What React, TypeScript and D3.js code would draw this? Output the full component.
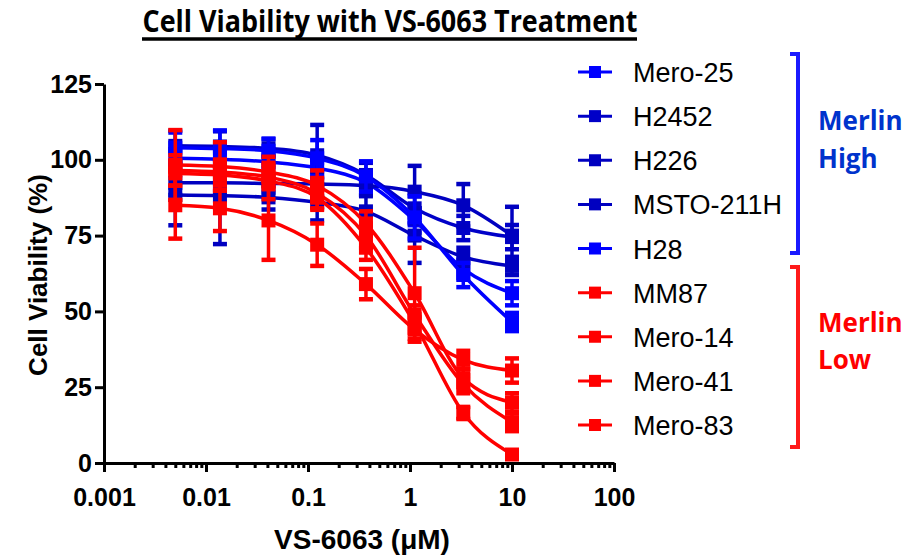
import React, { useEffect, useRef } from 'react';
import * as d3 from 'd3';

const WIDTH = 909;
const HEIGHT = 557;

// doses (uM), 3-fold dilutions
const concentrations = [0.005, 0.0137, 0.041, 0.123, 0.37, 1.11, 3.33, 10];

const xTickValues = [0.001, 0.01, 0.1, 1, 10, 100];
const xTickLabels = ['0.001', '0.01', '0.1', '1', '10', '100'];
const yTickValues = [0, 25, 50, 75, 100, 125];

// cell viability (%) mean and SD
const mero25 = [100.5, 100.2, 99.3, 97.3, 92.5, 80, 64, 56];
const mero25Sd = [3, 3, 2, 3, 4, 4, 3, 4];
const h2452 = [104.6, 104.4, 103.8, 101.5, 95, 84, 77.5, 74.5];
const h2452Sd = [5, 5, 3, 10, 4, 5, 4, 4];
const h226 = [88.4, 88.2, 87.6, 86, 83, 75, 68, 65];
const h226Sd = [10, 16, 4, 6, 5, 9, 3, 3];
const msto211h = [92.4, 92.4, 92.2, 92, 91.5, 89.5, 85, 75];
const msto211hSd = [4, 3, 3, 4, 3, 8.5, 7, 9.5];
const h28 = [104, 103.7, 103, 100.5, 94.5, 81, 62, 46.5];
const h28Sd = [5, 6, 4, 6, 5, 7, 4, 3];
const mm87 = [85, 84, 80, 72, 59, 44, 34, 30.5];
const mm87Sd = [11, 7.5, 13, 7, 5, 4, 3, 4];
const mero14 = [98.3, 97.8, 96, 91.5, 79, 56, 28, 20];
const mero14Sd = [11.5, 8, 5, 5, 4, 15, 3, 3];
const mero41 = [96.5, 96, 94.3, 89, 75, 49, 26, 13.5];
const mero41Sd = [5, 4, 4, 5, 4, 3, 3, 3];
const mero83 = [95.5, 95, 93, 87.5, 71, 46, 16.5, 2.8];
const mero83Sd = [4, 5, 6, 4, 4, 3, 2, 1];

const cellLines = ['Mero-25', 'H2452', 'H226', 'MSTO-211H', 'H28', 'MM87', 'Mero-14', 'Mero-41', 'Mero-83'];
const lineColors = ['#0000ff', '#0000c8', '#0000c0', '#0000c0', '#0000ff', '#ff0000', '#ff0000', '#ff0000', '#ff0000'];
const means = [mero25, h2452, h226, msto211h, h28, mm87, mero14, mero41, mero83];
const errors = [mero25Sd, h2452Sd, h226Sd, msto211hSd, h28Sd, mm87Sd, mero14Sd, mero41Sd, mero83Sd];

const groupNames = [['Merlin', 'High'], ['Merlin', 'Low']];
const groupColors = ['#0033cc', '#ff0000'];
const bracketColors = ['#1a1aff', '#ff1a1a'];

const App = () => {
  const svgRef = useRef<SVGSVGElement>(null);

  useEffect(() => {
    const svg = d3.select(svgRef.current);
    svg.selectAll('*').remove();

    const font = '"Liberation Sans", Arial, sans-serif';
    const x = d3.scaleLog().domain([0.001, 100]).range([104, 614]);
    const y = d3.scaleLinear().domain([0, 125]).range([463, 84]);

    // title
    svg
      .append('text')
      .attr('x', 390)
      .attr('y', 32)
      .attr('text-anchor', 'middle')
      .attr('font-family', '"Open Sans", sans-serif')
      .attr('font-weight', 700)
      .attr('font-size', 30)
      .attr('textLength', 495)
      .attr('lengthAdjust', 'spacingAndGlyphs')
      .text('Cell Viability with VS-6063 Treatment');
    svg.append('line').attr('x1', 142).attr('x2', 637).attr('y1', 39).attr('y2', 39)
      .attr('stroke', '#000').attr('stroke-width', 3.5);

    // curves, error bars, markers
    const line = d3
      .line<number>()
      .x((d, i) => x(concentrations[i]))
      .y(d => y(d))
      .curve(d3.curveMonotoneX);

    means.forEach((vals, si) => {
      const color = lineColors[si];
      const g = svg.append('g');
      g.append('path')
        .attr('d', line(vals))
        .attr('fill', 'none')
        .attr('stroke', color)
        .attr('stroke-width', 3.5);
      vals.forEach((v, i) => {
        const cx = x(concentrations[i]);
        const sd = errors[si][i];
        g.append('line').attr('x1', cx).attr('x2', cx)
          .attr('y1', y(v - sd)).attr('y2', y(v + sd))
          .attr('stroke', color).attr('stroke-width', 3.5);
        [v - sd, v + sd].forEach(e => {
          g.append('line').attr('x1', cx - 7).attr('x2', cx + 7)
            .attr('y1', y(e)).attr('y2', y(e))
            .attr('stroke', color).attr('stroke-width', 4.5);
        });
        g.append('rect').attr('x', cx - 7).attr('y', y(v) - 7)
          .attr('width', 14).attr('height', 14).attr('fill', color);
      });
    });

    // axes
    const minor: number[] = [];
    xTickValues.slice(0, -1).forEach(dec => {
      for (let k = 2; k <= 9; k++) minor.push(dec * k);
    });

    const xMinor = svg.append('g').attr('transform', 'translate(0,463)')
      .call(d3.axisBottom(x).tickValues(minor).tickSize(5).tickSizeOuter(0).tickFormat(() => ''));
    xMinor.select('.domain').remove();

    const xAxis = svg.append('g').attr('transform', 'translate(0,463)')
      .call(d3.axisBottom(x).tickValues(xTickValues).tickSize(9).tickSizeOuter(0).tickPadding(16)
        .tickFormat((d, i) => xTickLabels[i]));

    const yAxis = svg.append('g').attr('transform', 'translate(104,0)')
      .call(d3.axisLeft(y).tickValues(yTickValues).tickSize(9).tickSizeOuter(0).tickPadding(3));

    [xMinor, xAxis, yAxis].forEach(a => {
      a.selectAll('path, line').attr('stroke', '#000').attr('stroke-width', 3);
      a.selectAll('text')
        .attr('font-family', font)
        .attr('font-weight', 700)
        .attr('font-size', 25)
        .attr('fill', '#000');
    });

    // axis titles
    svg.append('text')
      .attr('transform', 'translate(47,275) rotate(-90)')
      .attr('text-anchor', 'middle')
      .attr('font-family', font).attr('font-weight', 700).attr('font-size', 26)
      .text('Cell Viability (%)');
    svg.append('text')
      .attr('x', 362).attr('y', 549)
      .attr('text-anchor', 'middle')
      .attr('font-family', font).attr('font-weight', 700).attr('font-size', 28)
      .text('VS-6063 (\u03bcM)');

    // legend
    const legendY = d3.scaleLinear().domain([0, 8]).range([72, 425]);
    cellLines.forEach((name, i) => {
      const ly = legendY(i);
      const lg = svg.append('g');
      lg.append('line').attr('x1', 578).attr('x2', 612).attr('y1', ly).attr('y2', ly)
        .attr('stroke', lineColors[i]).attr('stroke-width', 3);
      lg.append('rect').attr('x', 589).attr('y', ly - 6).attr('width', 12).attr('height', 12)
        .attr('fill', lineColors[i]);
      lg.append('text').attr('x', 633).attr('y', ly + 10)
        .attr('font-family', font).attr('font-size', 27).attr('fill', '#000')
        .text(name);
    });

    // group brackets
    const brackets = [[54, 253], [267, 447]];
    const groupTextY = [[130, 168], [332, 369]];
    brackets.forEach(([top, bottom], gi) => {
      svg.append('path')
        .attr('d', `M790,${top} H798 V${bottom} H790`)
        .attr('fill', 'none')
        .attr('stroke', bracketColors[gi])
        .attr('stroke-width', 4);
      groupNames[gi].forEach((t, ti) => {
        svg.append('text').attr('x', 818).attr('y', groupTextY[gi][ti])
          .attr('font-family', '"Open Sans", sans-serif').attr('font-weight', 700)
          .attr('font-size', 26).attr('fill', groupColors[gi])
          .text(t);
      });
    });
  }, []);

  return (
    <svg
      ref={svgRef}
      width={WIDTH}
      height={HEIGHT}
      style={{ position: 'absolute', left: 0, top: 0, background: '#fff' }}
    />
  );
};

export default App;
